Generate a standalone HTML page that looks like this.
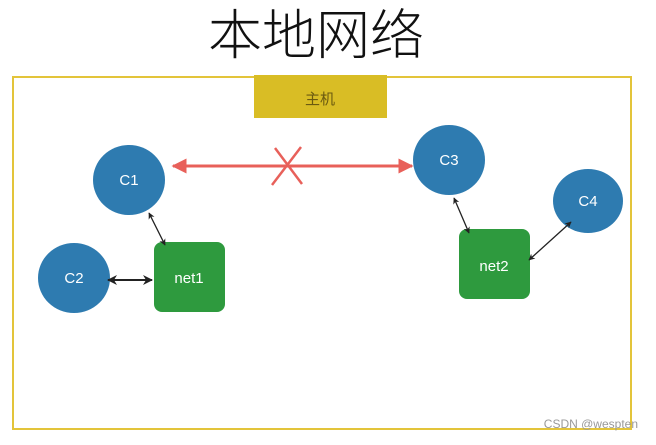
<!DOCTYPE html>
<html><head><meta charset="utf-8"><style>
body{margin:0;background:#fff;width:656px;height:440px;overflow:hidden}
</style></head><body>
<svg width="656" height="440" viewBox="0 0 656 440" xmlns="http://www.w3.org/2000/svg">
<defs>
<marker id="a" viewBox="0 0 10 10" refX="9" refY="5" markerWidth="5" markerHeight="5" orient="auto-start-reverse"><path d="M0,0 L10,5 L0,10 L3,5z" fill="#222"/></marker>
<marker id="r" viewBox="0 0 10 10" refX="9" refY="5" markerWidth="5" markerHeight="5" orient="auto-start-reverse"><path d="M0,0 L10,5 L0,10z" fill="#e8605a"/></marker>
</defs>
<text x="316" y="54" font-family="Noto Sans CJK SC, sans-serif" font-weight="300" font-size="54" text-anchor="middle" fill="#111">本地网络</text>
<rect x="13" y="77" width="618" height="352" fill="none" stroke="#e3c43a" stroke-width="2"/>
<rect x="254" y="75" width="133" height="43" fill="#d9bd25"/>
<text x="320" y="104" font-family="Noto Sans CJK SC, sans-serif" font-size="15" text-anchor="middle" fill="#6b5a10">主机</text>
<line x1="173" y1="166" x2="412" y2="166" stroke="#e8605a" stroke-width="3" marker-start="url(#r)" marker-end="url(#r)"/>
<line x1="275" y1="148" x2="302" y2="184" stroke="#e8605a" stroke-width="2.5"/>
<line x1="301" y1="147" x2="272" y2="185" stroke="#e8605a" stroke-width="2.5"/>
<g font-family="Liberation Sans, sans-serif" font-size="15" fill="#fff" text-anchor="middle">
<ellipse cx="129" cy="180" rx="36" ry="35" fill="#2e7bb0"/><text x="129" y="185">C1</text>
<ellipse cx="74" cy="278" rx="36" ry="35" fill="#2e7bb0"/><text x="74" y="283">C2</text>
<ellipse cx="449" cy="160" rx="36" ry="35" fill="#2e7bb0"/><text x="449" y="165">C3</text>
<ellipse cx="588" cy="201" rx="35" ry="32" fill="#2e7bb0"/><text x="588" y="206">C4</text>
<rect x="154" y="242" width="71" height="70" rx="8" fill="#2e9a3e"/><text x="189" y="283">net1</text>
<rect x="459" y="229" width="71" height="70" rx="8" fill="#2e9a3e"/><text x="494" y="271">net2</text>
</g>
<g stroke="#222" stroke-width="1.3">
<line x1="149" y1="213" x2="165" y2="245" marker-start="url(#a)" marker-end="url(#a)"/>
<line x1="108" y1="280" x2="152" y2="280" stroke-width="2" marker-start="url(#a)" marker-end="url(#a)"/>
<line x1="454" y1="198" x2="469" y2="233" marker-start="url(#a)" marker-end="url(#a)"/>
<line x1="571" y1="222" x2="529" y2="260" marker-start="url(#a)" marker-end="url(#a)"/>
</g>
<text x="638" y="428" font-family="Liberation Sans, sans-serif" font-size="12" text-anchor="end" fill="#999">CSDN @wespten</text>
</svg>
</body></html>
